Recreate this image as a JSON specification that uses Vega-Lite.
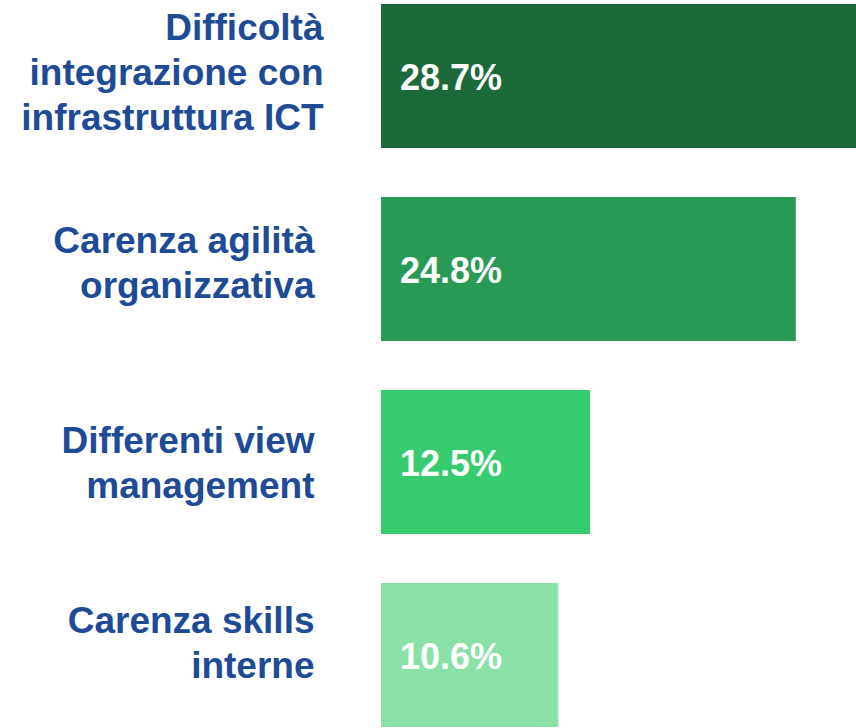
{
  "$schema": "https://vega.github.io/schema/vega-lite/v6.json",
  "autosize": "none",
  "padding": {"left": 381, "top": 4, "right": 0, "bottom": 1},
  "width": 475,
  "height": 723,
  "background": "white",
  "config": {"view": {"stroke": null}, "font": "Liberation Sans"},
  "data": {
    "values": [
      {"label": "Difficoltà\nintegrazione con\ninfrastruttura ICT", "value": 0.287, "color": "#1c6a3a"},
      {"label": "Carenza agilità\norganizzativa", "value": 0.248, "color": "#289a56"},
      {"label": "Differenti view\nmanagement", "value": 0.125, "color": "#37cb6f"},
      {"label": "Carenza skills\ninterne", "value": 0.106, "color": "#89e1a8"}
    ]
  },
  "encoding": {
    "y": {
      "field": "label", "type": "nominal", "sort": null,
      "scale": {"paddingInner": 0.254, "paddingOuter": 0},
      "axis": {
        "title": null, "domain": false, "ticks": false,
        "labelExpr": "split(datum.value, '\\n')",
        "labelFont": "Liberation Sans", "labelFontSize": 37, "labelFontWeight": "bold",
        "labelColor": "#1e4b96", "labelLineHeight": 45,
        "labelBaseline": "alphabetic",
        "labelOffset": {
          "condition": [
            {"test": "datum.value == 'Difficoltà\\nintegrazione con\\ninfrastruttura ICT'", "value": -36},
            {"test": "datum.value == 'Carenza agilità\\norganizzativa'", "value": -16},
            {"test": "datum.value == 'Differenti view\\nmanagement'", "value": -9}
          ],
          "value": -22
        },
        "labelPadding": {
          "condition": {"test": "datum.value == 'Difficoltà\\nintegrazione con\\ninfrastruttura ICT'", "value": 58},
          "value": 67
        },
        "labelAlign": "right", "labelLimit": 400
      }
    },
    "x": {
      "field": "value", "type": "quantitative",
      "scale": {"domain": [0, 0.284], "nice": false},
      "axis": null
    }
  },
  "layer": [
    {
      "mark": {"type": "bar", "clip": true},
      "encoding": {"color": {"field": "color", "type": "nominal", "scale": null}}
    },
    {
      "mark": {"type": "text", "align": "left", "baseline": "middle", "dx": 19, "dy": 3, "fontSize": 36, "fontWeight": "bold", "color": "white", "font": "Liberation Sans"},
      "encoding": {
        "x": {"datum": 0},
        "text": {"field": "value", "type": "quantitative", "format": ".1%"}
      }
    }
  ]
}
